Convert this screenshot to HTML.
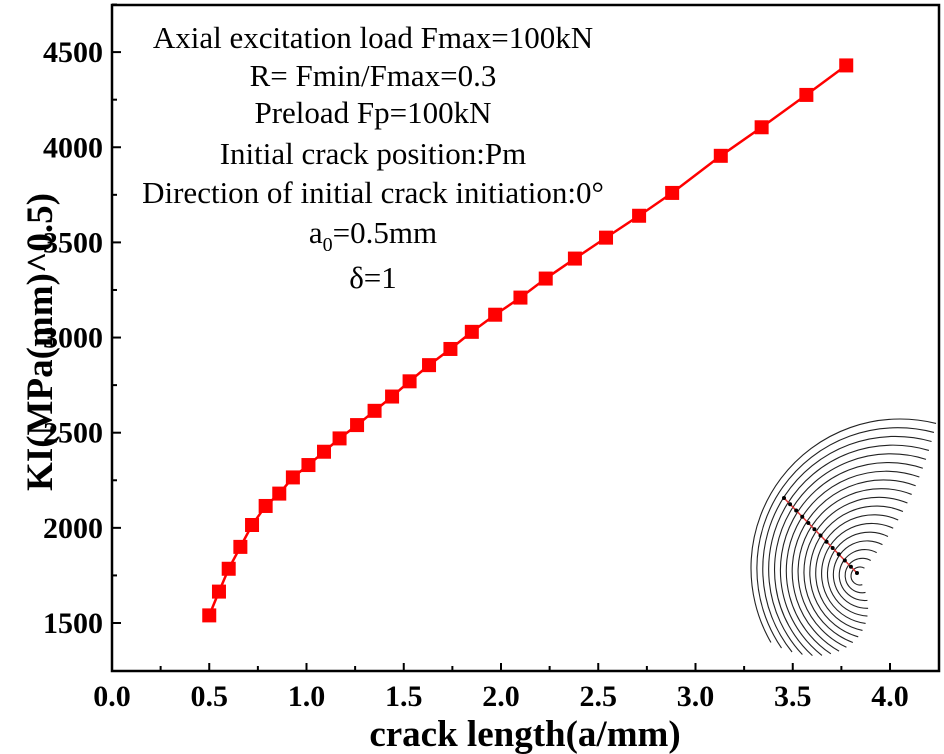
<!DOCTYPE html>
<html><head><meta charset="utf-8"><style>
html,body{margin:0;padding:0;background:#fff;}
svg{display:block;}
text{font-family:"Liberation Serif",serif;}
</style></head><body>
<svg id="chart" width="944" height="754" viewBox="0 0 944 754" xmlns="http://www.w3.org/2000/svg">
<rect x="112" y="5" width="827" height="666" fill="none" stroke="#000" stroke-width="2.5"/>
<g id="axes"></g>
<g id="series"></g>
<g id="inset"></g>
<g font-size="31" text-anchor="middle" fill="#000">
<text x="373" y="48">Axial excitation load  Fmax=100kN</text>
<text x="373" y="86">R= Fmin/Fmax=0.3</text>
<text x="373" y="123">Preload Fp=100kN</text>
<text x="373" y="164">Initial crack position:Pm</text>
<text x="373" y="203">Direction of initial crack initiation:0°</text>
<text x="373" y="243">a<tspan font-size="20" dy="8">0</tspan><tspan dy="-8">=0.5mm</tspan></text>
<text x="373" y="288">δ=1</text>
</g>
<text x="525" y="746" font-size="37" font-weight="bold" text-anchor="middle">crack length(a/mm)</text>
<text transform="translate(52,342) rotate(-90)" font-size="37" font-weight="bold" text-anchor="middle">KI(MPa(mm)^0.5)</text>
</svg>
<script>
const xTicks=[0,0.5,1.0,1.5,2.0,2.5,3.0,3.5,4.0];
const xTickLabels=["0.0","0.5","1.0","1.5","2.0","2.5","3.0","3.5","4.0"];
const yTicks=[1500,2000,2500,3000,3500,4000,4500];
const yTickLabels=["1500","2000","2500","3000","3500","4000","4500"];
const crackLength=[0.5,0.55,0.6,0.66,0.72,0.79,0.86,0.93,1.01,1.09,1.17,1.26,1.35,1.44,1.53,1.63,1.74,1.85,1.97,2.10,2.23,2.38,2.54,2.71,2.88,3.13,3.34,3.57,3.775];
const kiValues=[1540,1665,1785,1900,2015,2115,2180,2265,2330,2400,2470,2540,2615,2690,2770,2855,2940,3030,3120,3210,3310,3415,3525,3640,3760,3955,4105,4275,4430];
const NS="http://www.w3.org/2000/svg";
const X=v=>112+v*194.5;
const Y=v=>623-(v-1500)*0.1903;
function mk(tag,attrs,parent){const e=document.createElementNS(NS,tag);for(const k in attrs)e.setAttribute(k,attrs[k]);parent.appendChild(e);return e;}
const axes=document.getElementById('axes');
xTicks.forEach((t,i)=>{
  const l=mk('line',{x1:X(t),x2:X(t),y1:671,y2:663,stroke:'#000','stroke-width':2},axes);
  
  
  if(i<xTicks.length-1){const m=mk('line',{x1:X(t+0.25),x2:X(t+0.25),y1:671,y2:666,stroke:'#000','stroke-width':2},axes);
  
  }
  const tx=mk('text',{x:X(t),y:706,'font-size':30,'font-weight':'bold','text-anchor':'middle'},axes);
  tx.textContent=xTickLabels[i];
  
  
});
yTicks.forEach((t,i)=>{
  const l=mk('line',{x1:112,x2:121,y1:Y(t),y2:Y(t),stroke:'#000','stroke-width':2},axes);
  
  
  const m=mk('line',{x1:112,x2:117,y1:Y(t+250),y2:Y(t+250),stroke:'#000','stroke-width':2},axes);
  
  
  const tx=mk('text',{x:103,y:Y(t)+10,'font-size':30,'font-weight':'bold','text-anchor':'end'},axes);
  tx.textContent=yTickLabels[i];
  
  
});
const ser=document.getElementById('series');
const pts=crackLength.map((c,i)=>X(c)+','+Y(kiValues[i])).join(' ');
const pl=mk('polyline',{points:pts,fill:'none',stroke:'#ff0000','stroke-width':2.5},ser);


crackLength.forEach((c,i)=>{
  const r=mk('rect',{x:X(c)-7,y:Y(kiValues[i])-7,width:14,height:14,fill:'#ff0000'},ser);
  
  
});
const ins=document.getElementById('inset');
const N=18;
for(let k=0;k<N;k++){
  const f=k/(N-1);
  const cx=860+f*40, cy=576-f*8, r=9+f*140;
  const a0=(75+f*75)*Math.PI/180, a1=(300-f*16)*Math.PI/180;
  const x0=cx+r*Math.cos(a0), y0=cy+r*Math.sin(a0), x1=cx+r*Math.cos(a1), y1=cy+r*Math.sin(a1);
  const large=(a1-a0)>Math.PI?1:0;
  const p=mk('path',{d:`M${x0},${y0} A${r},${r} 0 ${large} 1 ${x1},${y1}`,fill:'none',stroke:'#222','stroke-width':1.1},ins);
  
  
}
const dl=mk('line',{x1:784,y1:498,x2:857,y2:573,stroke:'#d33','stroke-width':1.5},ins);


for(let k=0;k<=12;k++){
  const c=mk('circle',{cx:784+k*73/12,cy:498+k*75/12,r:2,fill:'#000'},ins);
  
  
}
</script>
</body></html>
